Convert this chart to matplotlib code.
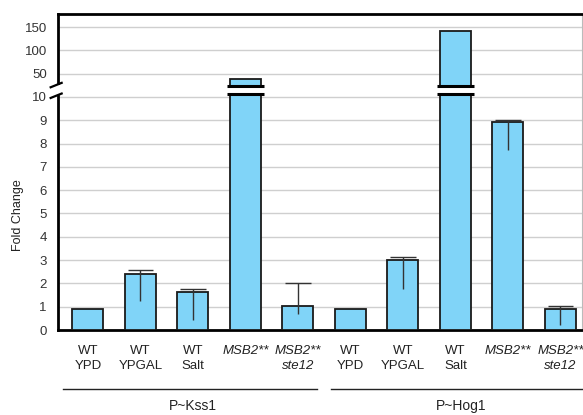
import numpy as np
import matplotlib
matplotlib.use("Agg")
import matplotlib.pyplot as plt

plt.rcParams["font.family"] = ["Liberation Sans", "DejaVu Sans"]

# data
labels = ["WT\nYPD", "WT\nYPGAL", "WT\nSalt", "MSB2**", "MSB2**\nste12",
          "WT\nYPD", "WT\nYPGAL", "WT\nSalt", "MSB2**", "MSB2**\nste12"]
italic = [False, False, False, True, True, False, False, False, True, True]
fold_change = [0.92, 2.39, 1.61, 41.0, 1.01, 0.91, 3.01, 142.0, 8.93, 0.92]
err_low = [None, 1.26, 0.43, None, 0.68, None, 1.77, None, 7.72, 0.2]
err_high = [None, 2.58, 1.77, None, 2.03, None, 3.12, None, 9.03, 1.03]
groups = ["P~Kss1", "P~Hog1"]
yticks = [0, 1, 2, 3, 4, 5, 6, 7, 8, 9, 10, 50, 100, 150]

# broken axis: 0-10 linear, 10-50 squeezed into one step, 50 per step above
seg_val = [0, 10, 50, 200]
seg_pos = [0, 10, 11, 14]


def forward(v):
    return np.interp(v, seg_val, seg_pos)


def inverse(s):
    return np.interp(s, seg_pos, seg_val)


fig = plt.figure(figsize=(5.83, 4.15), dpi=100)
ax = fig.add_axes([58 / 583, 85 / 415, 524 / 583, 316 / 415])
ax.set_yscale("function", functions=(forward, inverse))

x = np.arange(len(labels))
bar_w = 0.59
ax.bar(x, fold_change, width=bar_w, color="#80d4f8", edgecolor="#1a1a1a",
       linewidth=1.3, zorder=3)

# error bars (cap on top only)
for xi, lo, hi in zip(x, err_low, err_high):
    if lo is None:
        continue
    ax.vlines(xi, lo, hi, color="#333333", linewidth=1.0, zorder=4)
    ax.hlines(hi, xi - 0.24, xi + 0.24, color="#333333", linewidth=1.0, zorder=4)

# break marks on tall bars
brk_lo, brk_hi = inverse(10.12), inverse(10.47)
for xi, v in zip(x, fold_change):
    if v > 10:
        ax.fill_between([xi - 0.36, xi + 0.36], brk_lo, brk_hi, color="white", zorder=5)
        ax.hlines([brk_lo, brk_hi], xi - 0.36, xi + 0.36, color="black",
                  linewidth=2.2, zorder=6)

ax.set_xlim(-0.57, 9.41)
ax.set_ylim(0, inverse(13.56))
ax.set_yticks(yticks)
ax.set_yticklabels([str(t) for t in yticks])
ax.yaxis.grid(True, color="#cfcfcf", linewidth=1.0, zorder=0)
ax.set_axisbelow(True)

ax.set_xticks(x)
ax.set_xticklabels(labels, linespacing=1.35)
for lab, it in zip(ax.get_xticklabels(), italic):
    if it:
        lab.set_fontstyle("italic")
ax.tick_params(axis="x", length=0, pad=11, labelsize=9.5, labelcolor="#222222")
ax.tick_params(axis="y", length=0, pad=8, labelsize=9.5, labelcolor="#333333")

for side in ["top", "bottom"]:
    ax.spines[side].set_linewidth(2.0)
    ax.spines[side].set_color("black")
ax.spines["right"].set_color("#bbbbbb")
ax.spines["right"].set_linewidth(0.8)
ax.spines["left"].set_visible(False)

# left axis line with a break between 10 and 50
yb1 = 10.12 / 13.56
yb2 = 10.47 / 13.56
kw = dict(transform=ax.transAxes, color="black", clip_on=False, zorder=7)
ax.plot([0, 0], [0, yb1 - 0.005], linewidth=2.0, **kw)
ax.plot([0, 0], [yb2 + 0.01, 1], linewidth=2.0, **kw)
ax.plot([-0.014, 0.007], [yb1 - 0.012, yb1 + 0.002], linewidth=1.6, **kw)
ax.plot([-0.014, 0.007], [yb2 - 0.004, yb2 + 0.01], linewidth=1.6, **kw)

fig.text(18 / 583, 1 - 215 / 415, "Fold Change", rotation=90, ha="center",
         va="center", fontsize=9, color="#222222")

# group brackets under the categories
blend = ax.get_xaxis_transform()
ax.plot([-0.48, 4.37], [-0.187, -0.187], transform=blend, color="#222222",
        linewidth=1.0, clip_on=False)
ax.plot([4.63, 9.6], [-0.187, -0.187], transform=blend, color="#222222",
        linewidth=1.0, clip_on=False)
ax.text(2.0, -0.24, groups[0], transform=blend, ha="center", va="center",
        fontsize=10, color="#222222")
ax.text(7.1, -0.24, groups[1], transform=blend, ha="center", va="center",
        fontsize=10, color="#222222")

fig.savefig("out.png", dpi=100)
